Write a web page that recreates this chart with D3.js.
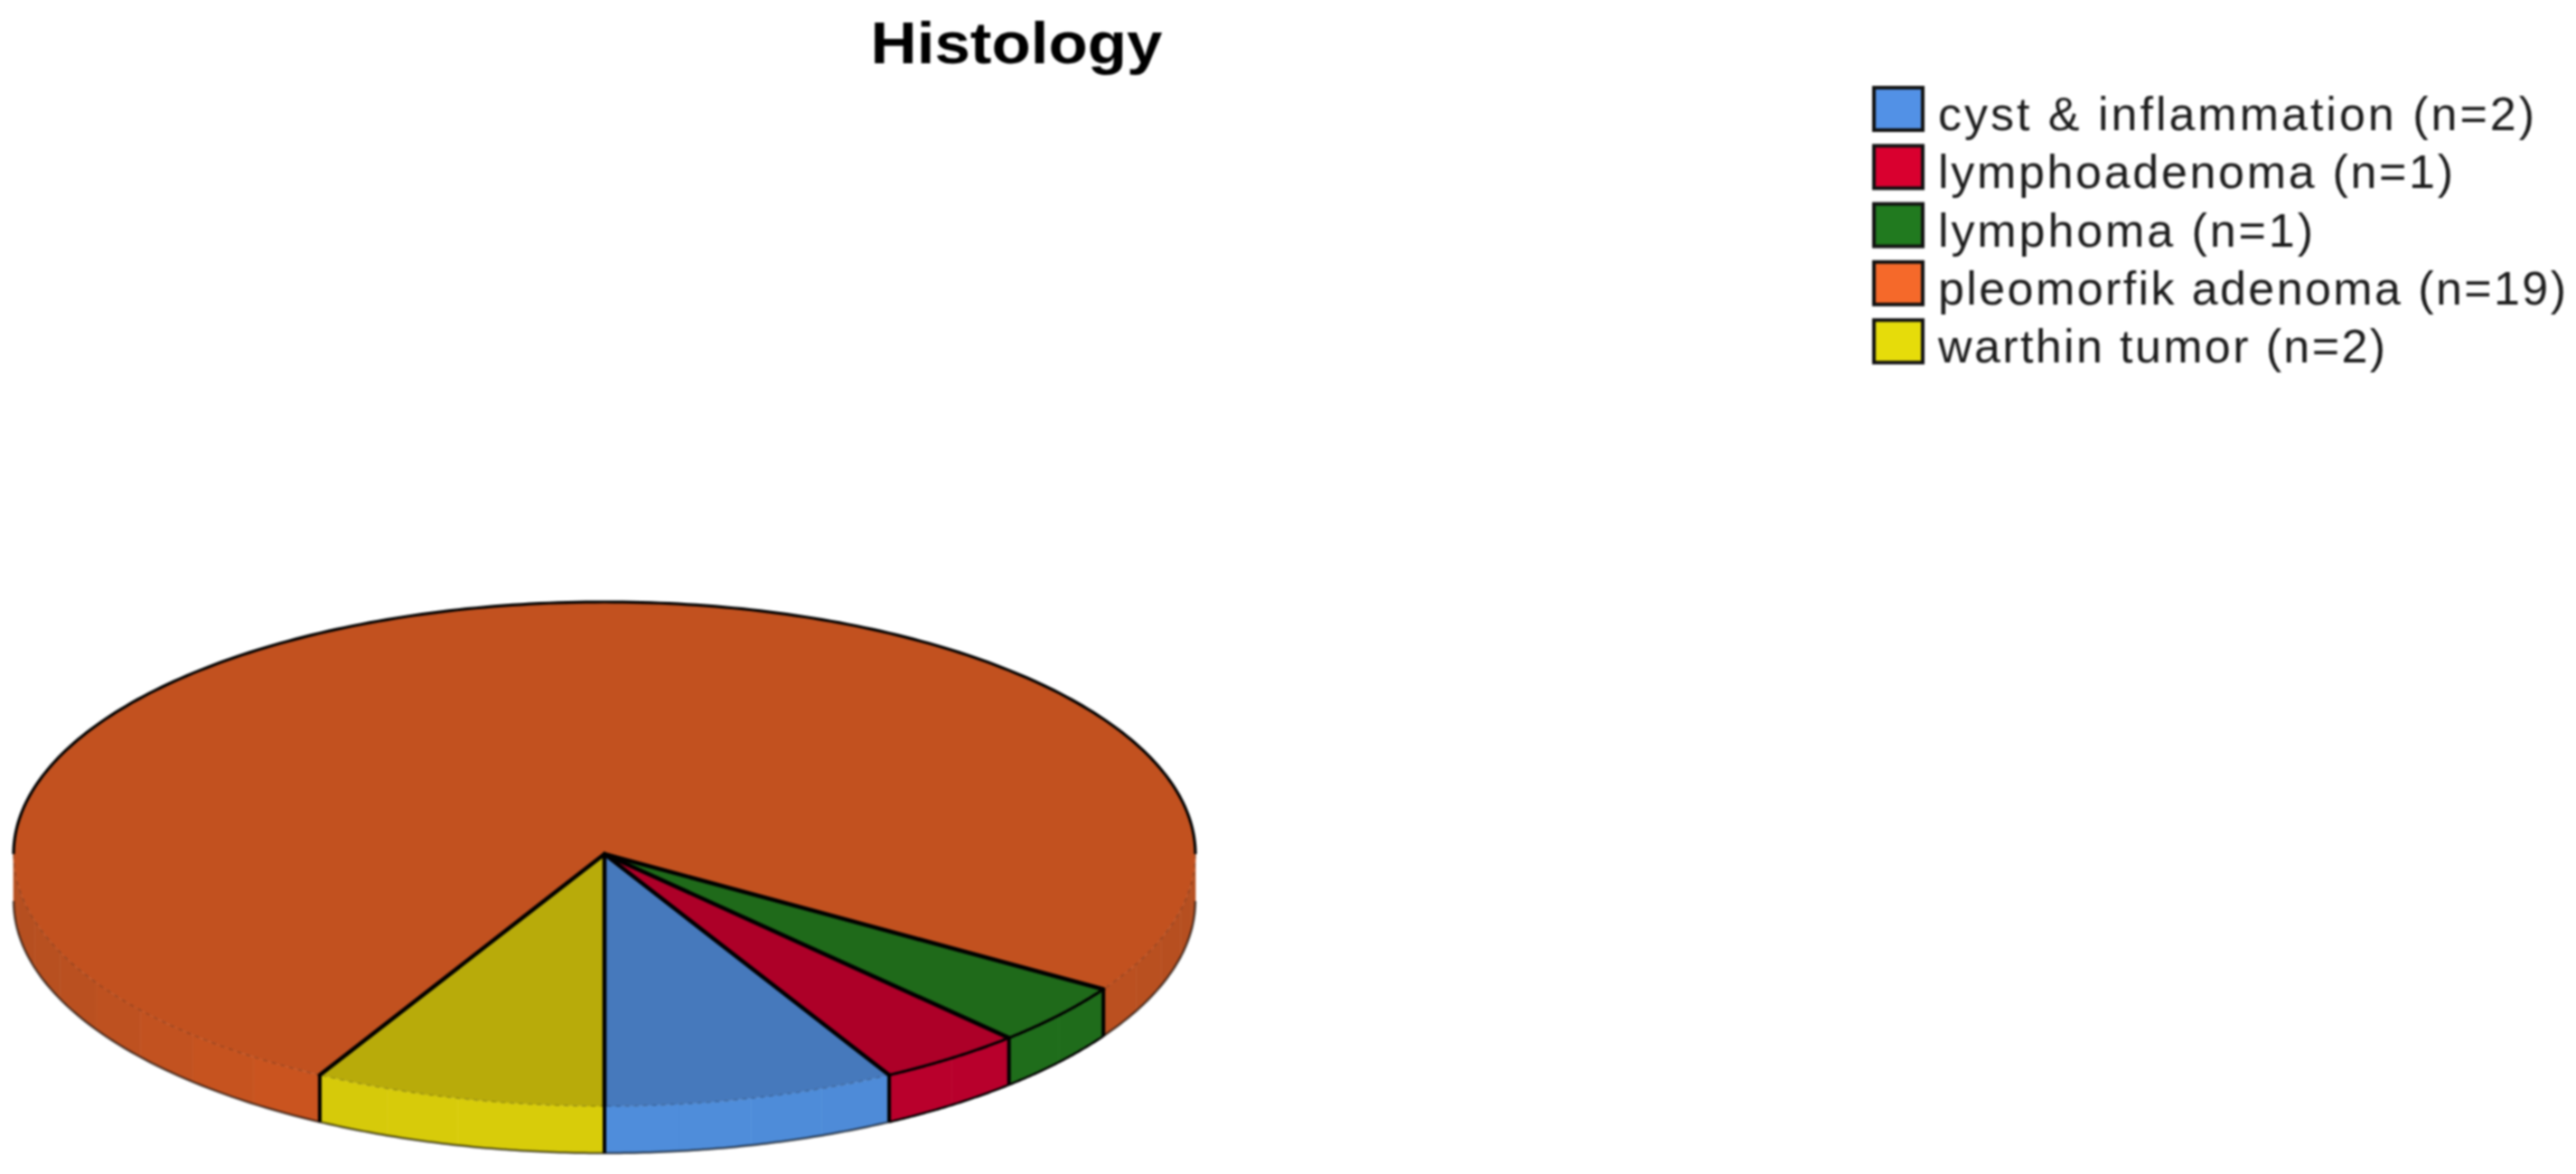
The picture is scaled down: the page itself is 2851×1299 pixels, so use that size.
<!DOCTYPE html>
<html>
<head>
<meta charset="utf-8">
<script src="https://cdn.jsdelivr.net/npm/d3@7"></script>
<style>
  html, body { margin: 0; background: #fff; overflow: hidden; }
  svg { display: block; font-family: "Liberation Sans", Arial, sans-serif; filter: blur(0.9px); }
</style>
</head>
<body>
<svg></svg>
<script>
// Histology counts, slices run counter clockwise from the bottom
var categories = ['cyst & inflammation', 'lymphoadenoma', 'lymphoma', 'pleomorfik adenoma', 'warthin tumor']
var counts = [2, 1, 1, 19, 2]

var legendColors = ['#5291e6', '#d9002f', '#217a1f', '#f5692a', '#e6dc0a']
var topColors = ['#4679bc', '#ad0028', '#1f6a1a', '#c2511f', '#b8ab0a']
var wallFront = ['#4f8ddb', '#bb002d', '#1f701c', '#d4561f', '#d8cc0a']
var wallSide = ['#4a84cc', '#b3002a', '#1f6a1a', '#b54f20', '#ccc00a']

var width = 2851
var height = 1299
var cx = 669
var cy = 945
var rx = 654
var ry = 279
var depth = 52

var svg = d3.select('svg')
            .attr('width', width)
            .attr('height', height)

var xScale = d3.scaleLinear().domain([-1, 1]).range([cx - rx, cx + rx])
var yScale = d3.scaleLinear().domain([-1, 1]).range([cy + ry, cy - ry])

var slices = d3.pie()
               .sort(null)
               .startAngle(Math.PI)
               .endAngle(-Math.PI)(counts)

// outline of the disc, drop moves it down to the bottom of the wall
var rim = (a, drop) => [xScale(Math.sin(a)), yScale(Math.cos(a)) + drop]
var line = d3.line()

function steps(a0, a1, n) {
  return d3.range(n + 1).map(i => a0 + (a1 - a0) * i / n)
}

// angles are normalised to clockwise from 12 o'clock, a0 < a1
var parts = slices.map((d, i) => {
  var a0 = d.endAngle, a1 = d.startAngle
  if (i >= 3) { a0 += Math.PI * 2; a1 += Math.PI * 2 }
  return { i: i, a0: a0, a1: a1 }
})

// orange slice wraps round the back, so it has two wall pieces
var walls = []
parts.forEach(p => {
  if (p.i === 3) {
    walls.push({ i: 3, a0: Math.PI / 2, a1: p.a1 - Math.PI * 2 })
    walls.push({ i: 3, a0: p.a0, a1: Math.PI * 1.5 })
  } else {
    walls.push(p)
  }
})

var wallLayer = svg.append('g')
walls.forEach(w => {
  var n = Math.ceil((w.a1 - w.a0) / 0.14)
  var edges = steps(w.a0, w.a1, n)
  d3.range(n).forEach(k => {
    var mid = (edges[k] + edges[k + 1]) / 2
    var t = Math.pow(Math.abs(Math.cos(mid)), 2.2)
    var top = steps(edges[k], edges[k + 1], 6).map(a => rim(a, 0))
    var bottom = steps(edges[k + 1], edges[k], 6).map(a => rim(a, depth))
    wallLayer.append('path')
      .attr('d', line(top.concat(bottom)) + 'Z')
      .attr('fill', d3.interpolateRgb(wallSide[w.i], wallFront[w.i])(t))
      .attr('stroke', d3.interpolateRgb(wallSide[w.i], wallFront[w.i])(t))
      .attr('stroke-width', 0.6)
  })
})

// bottom edge of the wall
walls.forEach(w => {
  wallLayer.append('path')
    .attr('d', line(steps(w.a0, w.a1, 60).map(a => rim(a, depth))))
    .attr('fill', 'none')
    .attr('stroke', '#000')
    .attr('stroke-width', 2.5)
    .attr('stroke-opacity', (w.i === 1 || w.i === 2) ? 1 : 0.6)
})

// top face
var topLayer = svg.append('g')
parts.forEach(p => {
  var pts = steps(p.a0, p.a1, 160).map(a => rim(a, 0))
  topLayer.append('path')
    .attr('d', line([[cx, cy]].concat(pts)) + 'Z')
    .attr('fill', topColors[p.i])
})

// seam between top and wall
walls.forEach(w => {
  var solid = w.i === 1 || w.i === 2
  topLayer.append('path')
    .attr('d', line(steps(w.a0, w.a1, 60).map(a => rim(a, 0))))
    .attr('fill', 'none')
    .attr('stroke', '#000')
    .attr('stroke-width', solid ? 3 : 1.5)
    .attr('stroke-opacity', solid ? 1 : 0.22)
    .attr('stroke-dasharray', solid ? null : '5 5')
})

// black outline round the back of the disc
topLayer.append('path')
  .attr('d', line(steps(-Math.PI / 2, Math.PI / 2, 200).map(a => rim(a, 0))))
  .attr('fill', 'none')
  .attr('stroke', '#000')
  .attr('stroke-width', 3.2)

// slice edges: radial line on top and vertical line on the wall
var edgeAngles = [Math.PI].concat(slices.slice(0, 4).map(d => d.endAngle))
edgeAngles.forEach(a => {
  var end = rim(a, 0)
  topLayer.append('path')
    .attr('d', line([[cx, cy], end]))
    .attr('stroke', '#000')
    .attr('stroke-width', 4.5)
    .attr('stroke-linecap', 'round')
  topLayer.append('path')
    .attr('d', line([end, rim(a, depth)]))
    .attr('stroke', '#000')
    .attr('stroke-width', 4)
})

svg.append('text')
  .attr('x', 1125)
  .attr('y', 70)
  .attr('text-anchor', 'middle')
  .attr('font-size', 65)
  .attr('font-weight', 'bold')
  .attr('textLength', 323)
  .attr('lengthAdjust', 'spacingAndGlyphs')
  .attr('fill', '#000')
  .text('Histology')

var legendY = d3.scaleBand()
                .domain(categories)
                .range([97, 97 + 64.3 * categories.length])

var legendWidths = [660, 570, 415, 695, 495]

var legend = svg.append('g')
                .selectAll('g')
                .data(categories)
                .enter()
                .append('g')
                .attr('transform', d => 'translate(2074,' + legendY(d) + ')')

legend.append('rect')
  .attr('width', 54)
  .attr('height', 47)
  .attr('fill', (d, i) => legendColors[i])
  .attr('stroke', '#111')
  .attr('stroke-width', 4)

legend.append('text')
  .attr('x', 71)
  .attr('y', 47)
  .attr('font-size', 52)
  .attr('fill', '#1c1c1c')
  .attr('textLength', (d, i) => legendWidths[i])
  .attr('lengthAdjust', 'spacing')
  .text((d, i) => d + ' (n=' + counts[i] + ')')
</script>
</body>
</html>
